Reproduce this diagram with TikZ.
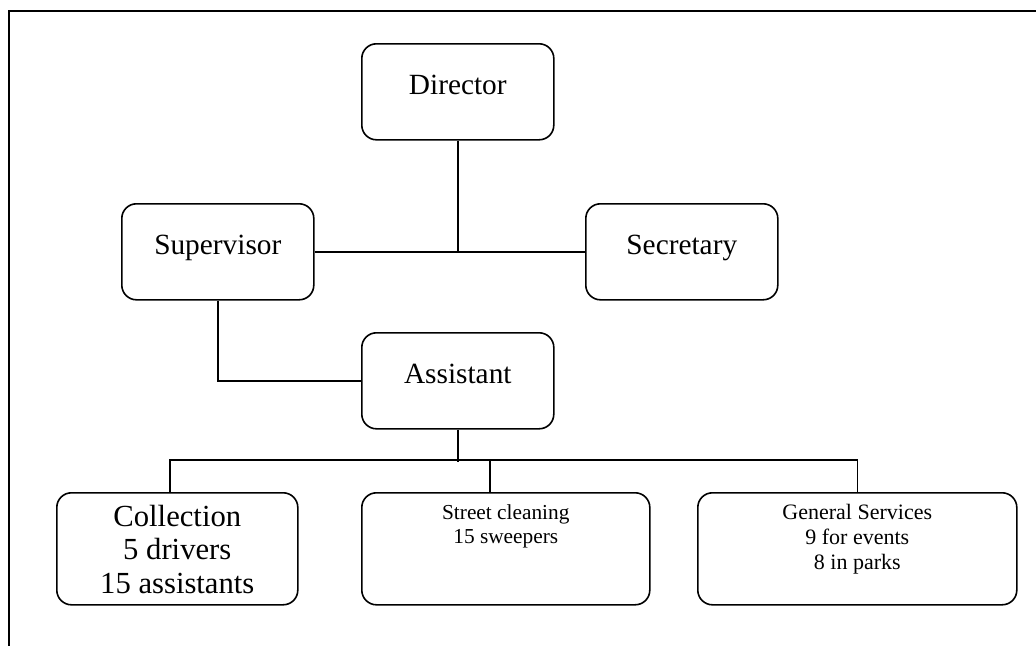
\documentclass[tikz,border=0pt]{standalone}
\usepackage{fontspec}
\setmainfont{Liberation Serif}
\usetikzlibrary{positioning}

\begin{document}
\begin{tikzpicture}[
				x=0.75pt, y=-0.75pt,
				unit/.style={
						draw=black,
						fill=white,
						line width=1.2pt,
						rounded corners=11pt,
						minimum width=144pt,
						minimum height=72pt,
						inner sep=0pt,
						anchor=north west,
					},
				team/.style={
						unit,
						minimum height=84pt,
					},
				unitlabel/.style={
						inner sep=0pt,
						anchor=base,
						font=\fontsize{22}{25}\selectfont,
					},
				teamlabel/.style={
						unitlabel,
						align=center,
						font=\fontsize{16.5}{18.5}\selectfont,
					},
				link/.style={
						draw=black, line width=1.1pt,
					},
				frame/.style={
						draw=black, line width=1.6pt,
					},
			]

			\useasboundingbox (0,0) rectangle (1036,646);

			% Rahmen oben und links
			\draw[frame] (1036,11) -- (9,11) -- (9,646);

			% Leitung
			\node[unit] (director) at (361,43) {};
			\node[unit] (supervisor) at (121,203) {};
			\node[unit] (secretary) at (585,203) {};
			\node[unit] (assistant) at (361,332) {};

			% Drei Teams unten
			\node[team, minimum width=180.75pt] (collection) at (56,492) {};
			\node[team, minimum width=216pt] (street) at (361,492) {};
			\node[team, minimum width=239.25pt] (general) at (697,492) {};

			% Beschriftungen (base = letzte Zeile)
			\foreach \n/\text in {director/Director,supervisor/Supervisor,secretary/Secretary,assistant/Assistant} {
					\node[unitlabel] (\n label) at ([yshift=-38.25pt]\n.north) {\text};
				}
			\node[teamlabel, font=\fontsize{23}{25}\selectfont] (collectionlabel)
			at ([yshift=-75.75pt]collection.north) {Collection\\5 drivers\\15 assistants};
			\node[teamlabel, font=\fontsize{16}{17.5}\selectfont] (streetlabel)
			at ([yshift=-38.25pt]street.north) {Street cleaning\\15 sweepers};
			\node[teamlabel] (generallabel)
			at ([yshift=-57.75pt]general.north) {General Services\\9 for events\\8 in parks};

			% Verbindungen
			\draw[link] (supervisor.east) -- (secretary.west);
			\draw[link] (director.south) -- (director.south |- supervisor.east);
			\draw[link] (supervisor.south) |- (assistant.west);
			\draw[link] (assistant.south) -- ++(0,32);
			\draw[link] ([xshift=-5.6pt]collection.north) -- ++(0,-32) -| (general.north);
			\draw[link] ([xshift=-12pt]street.north) -- ++(0,-32);

		\end{tikzpicture}
\end{document}
